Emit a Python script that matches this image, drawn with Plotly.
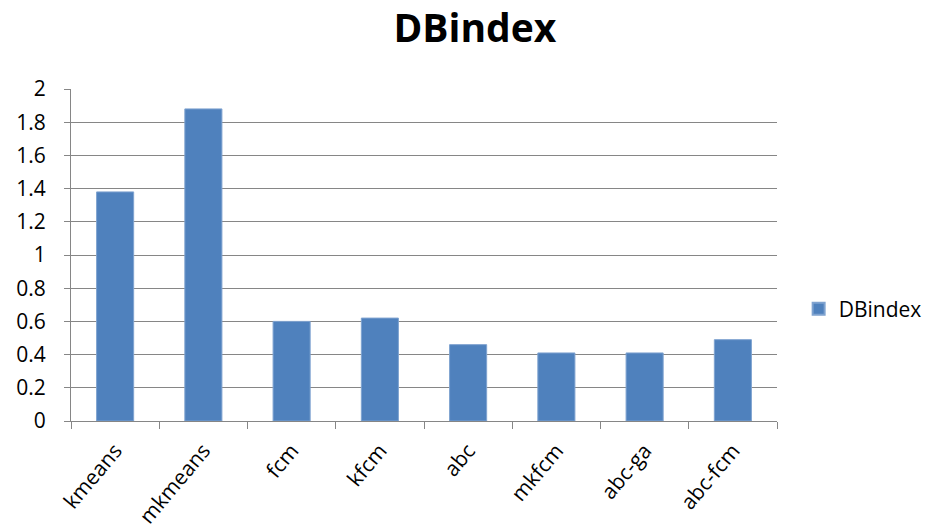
import plotly.graph_objects as go

categories = ["kmeans", "mkmeans", "fcm", "kfcm", "abc", "mkfcm", "abc-ga", "abc-fcm"]
dbindex = [1.38, 1.88, 0.60, 0.62, 0.46, 0.41, 0.41, 0.49]
y_ticks = [0, 0.2, 0.4, 0.6, 0.8, 1, 1.2, 1.4, 1.6, 1.8, 2]

fig = go.Figure()
fig.add_trace(go.Bar(
    x=categories, y=dbindex, name="DBindex",
    marker=dict(color="#4F81BD", line=dict(color="#7FA3D0", width=1)),
    showlegend=True,
))

font_family = "Open Sans, Liberation Sans, sans-serif"
fig.update_layout(
    width=933, height=532,
    margin=dict(l=71, r=156, t=89, b=111, autoexpand=False),
    paper_bgcolor="white", plot_bgcolor="white",
    bargap=0.58,
    title=dict(text="<b>DBindex</b>", x=0.509, xanchor="center", y=0.947, yanchor="middle",
               font=dict(family=font_family, size=39, color="black")),
    legend=dict(xref="container", yref="container", x=0.856, y=0.419,
                xanchor="left", yanchor="middle",
                font=dict(family=font_family, size=21, color="black"),
                itemsizing="constant", itemwidth=30),
    font=dict(family=font_family, color="black"),
)
fig.update_yaxes(
    range=[0, 2], tickvals=y_ticks, ticktext=[f"{v:g}" for v in y_ticks],
    showgrid=True, gridcolor="#868686", gridwidth=1,
    showline=True, linecolor="#868686", linewidth=1,
    ticks="outside", ticklen=6, tickcolor="#868686",
    ticklabelstandoff=14, automargin=False,
    tickfont=dict(family=font_family, size=21, color="black"),
    zeroline=False,
)
fig.update_xaxes(
    showline=True, linecolor="#868686", linewidth=1,
    ticks="outside", ticklen=7, tickcolor="#868686", tickson="boundaries",
    tickangle=-50, automargin=False,
    ticklabelstandoff=8,
    tickfont=dict(family=font_family, size=21, color="black"),
)
fig.write_html("out.html")
